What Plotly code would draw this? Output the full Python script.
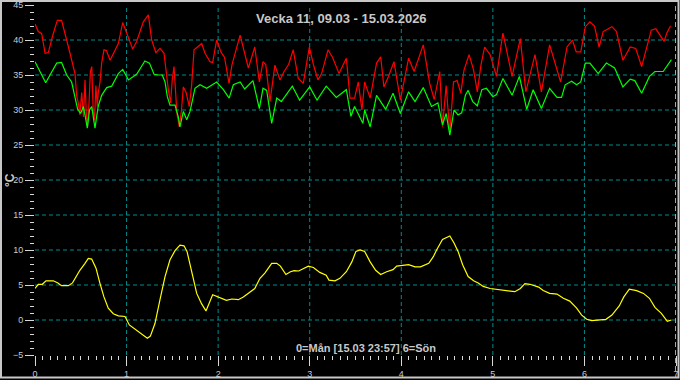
import plotly.graph_objects as go

# ---- data (x = day of week, 0 = Monday) ----
red_t = [0, .036, .073, .11, .146, .19, .244, .29, .346, .382, .41, .437, .455, .473, .49, .51, .53, .546, .56, .575,
         .59, .605, .62, .635, .65, .665, .68, .69, .71, .728, .753, .78, .82, .863, .91, .958, 1.0, 1.067, 1.11, 1.183,
         1.238, 1.274, 1.32, 1.365, 1.409, 1.43, 1.456, 1.48, 1.50, 1.518, 1.535, 1.55, 1.576, 1.60, 1.62, 1.65, 1.685,
         1.71, 1.737, 1.78, 1.82, 1.857, 1.911, 1.94, 1.984, 2.03, 2.07, 2.119, 2.15, 2.24, 2.33, 2.40, 2.45, 2.49, 2.52,
         2.566, 2.62, 2.675, 2.72, 2.77, 2.82, 2.875, 2.93, 2.996, 3.04, 3.09, 3.13, 3.2, 3.25, 3.32, 3.4, 3.44, 3.49,
         3.53, 3.57, 3.60, 3.66, 3.73, 3.775, 3.81, 3.86, 3.92, 3.99, 4.08, 4.14, 4.24, 4.31, 4.36, 4.42, 4.45, 4.49,
         4.53, 4.57, 4.61, 4.65, 4.685, 4.74, 4.79, 4.83, 4.87, 4.91, 4.97, 5.04, 5.11, 5.21, 5.30, 5.36, 5.46, 5.53,
         5.62, 5.74, 5.81, 5.87, 5.91, 5.96, 6.01, 6.06, 6.11, 6.16, 6.205, 6.30, 6.35, 6.42, 6.50, 6.56, 6.625, 6.68,
         6.73, 6.78, 6.87, 6.90, 6.94]
red_v = [42.3, 41.2, 40.9, 38.1, 38.2, 40.5, 42.8, 42.8, 40, 38.1, 36.9, 35.2, 32, 31, 29.3, 32.5, 29, 34.3, 29.5, 27.6,
         31, 35.5, 36.2, 30, 28.5, 33.5, 30.5, 32.4, 34, 36.7, 38.6, 38.5, 37.1, 38.2, 39.5, 42.5, 41, 38.7, 39.8, 42.6,
         43.6, 40, 38.2, 38.8, 38.1, 35.5, 32.9, 31, 34.5, 36.2, 32, 29.5, 27.6, 30, 33.3, 32.5, 30.5,
         33.5, 38.6, 39, 39.5, 38.1, 36.9, 36.8, 40, 38.3, 37.5, 33.8, 36.4, 40.7, 36, 39, 34, 36.9, 36.5,
         31.2, 36.4, 34.3, 35.5, 36.5, 38.6, 34.5, 33.8, 39, 36.5, 34.3, 35.2, 38.6, 37.5, 35.2, 37.4, 31.7, 31.7,
         34, 30, 34, 31.7, 36.7, 37.6, 33.3, 34.8, 36.9, 31.4, 37.4, 35.5, 39.3, 33.8, 31.5, 35.5, 27.6, 33.5,
         26.7, 34, 34.2, 32.4, 35.7, 37.9, 35.7, 32.6, 36.4, 39, 37.9, 34.8, 41, 34.8, 40.2, 32.6, 37.9, 32.6,
         39.3, 34, 39, 40, 38.3, 38.3, 41.9, 42.6, 42, 39, 41.2, 41.9, 41.2, 37.1, 39, 38.8, 36.2, 38.8,
         41.4, 41.6, 39.8, 41, 42]

green_t = [0, .055, .117, .164, .237, .29, .346, .4, .437, .466, .499, .528, .55, .571, .595, .619, .655, .69, .728,
           .783, .837, .91, .958, 1.02, 1.11, 1.2, 1.25, 1.3, 1.347, 1.39, 1.42, 1.445, 1.474, 1.529, 1.565, 1.583,
           1.62, 1.657, 1.693, 1.747, 1.802, 1.875, 1.984, 2.057, 2.12, 2.166, 2.24, 2.29, 2.38, 2.45, 2.49, 2.53,
           2.585, 2.64, 2.69, 2.81, 2.89, 3.0, 3.08, 3.18, 3.29, 3.40, 3.45, 3.49, 3.58, 3.6, 3.66, 3.73, 3.83, 3.91,
           3.99, 4.08, 4.15, 4.24, 4.33, 4.40, 4.45, 4.49, 4.53, 4.576, 4.62, 4.66, 4.70, 4.73, 4.78, 4.83, 4.88,
           4.93, 5.0, 5.04, 5.11, 5.21, 5.29, 5.37, 5.44, 5.53, 5.62, 5.70, 5.75, 5.79, 5.86, 5.915, 5.96, 6.01,
           6.06, 6.15, 6.24, 6.33, 6.42, 6.50, 6.55, 6.625, 6.71, 6.77, 6.86, 6.95]
green_v = [36.9, 35.5, 33.9, 35, 36.7, 36.8, 35, 34, 31.9, 30.1, 29.5, 30.5, 29, 27.4, 30, 30.5, 27.4, 30.5, 32.1,
           33.2, 33.4, 35.2, 35.8, 34.3, 35.1, 37, 36.7, 35.1, 35, 35, 34, 31.9, 30.7, 30.7, 29, 27.6,
           29.8, 28.6, 29.8, 33.1, 33.6, 33.1, 34, 32.9, 31.7, 33.6, 34, 33, 34.2, 30.2, 33.1, 32.8,
           28.1, 31.7, 31.2, 33.4, 31.4, 33.3, 31.4, 33.4, 31.8, 32.9, 29.1, 30.5, 28.1, 30, 27.6, 32.1, 30.1, 32.4,
           29.5, 32.6, 31.2, 33.2, 30.5, 31, 27.9, 29.5, 26.4, 30, 29.3, 29.6, 32.1, 32.8, 31.2, 30.6, 32.9,
           33.1, 31.9, 32.2, 34.5, 32.1, 34.8, 30.1, 32.9, 30.2, 33.1, 31.8, 31.8, 33.6, 34.1, 33.6, 34, 36.7,
           36.7, 35.2, 36.7, 36, 33.3, 34.4, 34.2, 32.4, 34.8, 35.5, 35.5, 37.2]

yellow_t = [0, .036, .08, .12, .2, .25, .29, .364, .41, .49, .546, .582, .619, .666, .71, .753, .80, .855, .91, .983,
            1.03, 1.11, 1.183, 1.227, 1.26, 1.31, 1.365, 1.42, 1.474, 1.529, 1.583, 1.627, 1.66, 1.71, 1.766, 1.82,
            1.867, 1.94, 2.0, 2.09, 2.15, 2.22, 2.275, 2.35, 2.40, 2.457, 2.51, 2.585, 2.64, 2.68, 2.74, 2.79, 2.83,
            2.88, 2.985, 3.04, 3.11, 3.18, 3.21, 3.276, 3.33, 3.40, 3.46, 3.505, 3.55, 3.60, 3.66, 3.72, 3.775, 3.84,
            3.91, 3.95, 4.08, 4.15, 4.21, 4.30, 4.35, 4.39, 4.45, 4.53, 4.576, 4.62, 4.67, 4.73, 4.79, 4.84, 4.895,
            4.97, 5.04, 5.11, 5.24, 5.30, 5.35, 5.405, 5.50, 5.55, 5.62, 5.70, 5.77, 5.84, 5.915, 5.97, 6.025, 6.08,
            6.15, 6.235, 6.30, 6.38, 6.43, 6.49, 6.57, 6.645, 6.71, 6.77, 6.84, 6.905, 6.95]
yellow_v = [4.5, 5.1, 5.1, 5.6, 5.6, 5.3, 4.9, 4.9, 5.3, 7.1, 8.1, 8.8, 8.7, 7.4, 5.2, 3.3, 1.7, 0.9, 0.6, 0.5,
            -0.7, -1.5, -2.1, -2.6, -2.3, -0.5, 2.9, 6.2, 8.6, 9.9, 10.7, 10.6, 9.8, 7.1, 3.8, 2.3,
            1.3, 3.6, 3.3, 2.8, 3.0, 2.9, 3.3, 4.0, 4.5, 5.95, 6.7, 8.1, 8.1, 7.7, 6.5, 6.9, 7.05,
            7.0, 7.7, 7.5, 6.8, 6.4, 5.7, 5.6, 5.95, 6.9, 8.3, 9.8, 10, 9.8, 8.3, 7.1, 6.5, 6.9,
            7.2, 7.7, 7.9, 7.6, 7.6, 8.1, 9.05, 10.1, 11.5, 12, 11, 9.8, 7.9, 6.2, 5.6, 5.3, 4.8,
            4.5, 4.4, 4.2, 4.05, 4.5, 5.2, 5.1, 4.7, 4.2, 3.8, 3.7, 3.1, 2.7, 1.7, 0.7, 0.1, -0.1,
            0, 0.1, 0.7, 2.0, 3.3, 4.4, 4.2, 3.8, 3.1, 1.8, 0.95, -0.2, 0]

x_ticks = [0, 1, 2, 3, 4, 5, 6, 7]
y_ticks = [-5, 0, 5, 10, 15, 20, 25, 30, 35, 40, 45]
x_grid = [1, 2, 3, 4, 5, 6]
y_grid = [0, 5, 10, 15, 20, 25, 30, 35, 40]

title_text = "Vecka 11, 09.03 - 15.03.2026"
footer_text = "0=Mån [15.03 23:57] 6=Sön"
y_title = "°C"
now_x = 7

# ---- figure ----
W, H = 680, 380
ML, MR, MT, MB = 35, 4, 5, 25
PW, PH = W - ML - MR, H - MT - MB

def px_to_paper_x(px):
    return (px - ML) / PW

def py_to_paper_y(py):
    return (H - MB - py) / PH

fig = go.Figure()

grid_col = "#008c8c"
grid_line = dict(color=grid_col, width=1, dash="4px,3px")
for gx in x_grid:
    fig.add_shape(type="line", xref="x", yref="paper", x0=gx, x1=gx, y0=0, y1=1, line=grid_line, layer="below")
for gy in y_grid:
    fig.add_shape(type="line", xref="paper", yref="y", x0=0, x1=1, y0=gy, y1=gy, line=grid_line, layer="below")

for t, v, c in [(red_t, red_v, "#ff0000"), (green_t, green_v, "#00ff00"), (yellow_t, yellow_v, "#ffff00")]:
    fig.add_trace(go.Scatter(x=t, y=v, mode="lines", line=dict(color=c, width=1.2), hoverinfo="x+y"))

tick_font = dict(family="Liberation Sans, Arial, sans-serif", size=9, color="#c4ccd4")
tick_col = "#d8d8d8"

fig.update_xaxes(range=[0, 7], tickmode="array", tickvals=x_ticks, ticks="outside", ticklen=10, tickwidth=1,
                 tickcolor=tick_col, tickfont=tick_font, showgrid=False, zeroline=False, showline=False,
                 automargin=False,
                 minor=dict(dtick=1 / 12, tick0=0, ticks="outside", ticklen=4, tickcolor=tick_col, showgrid=False))
fig.update_yaxes(range=[-5, 45], tickmode="array", tickvals=y_ticks, ticks="outside", ticklen=9, tickwidth=1,
                 tickcolor=tick_col, tickfont=tick_font, showgrid=False, zeroline=False, showline=False,
                 automargin=False,
                 minor=dict(dtick=1, tick0=0, ticks="outside", ticklen=4, tickcolor=tick_col, showgrid=False))

fig.add_shape(type="line", xref="x", yref="paper", x0=now_x, x1=now_x,
              y0=py_to_paper_y(371), y1=py_to_paper_y(6),
              line=dict(color="#00e8ff", width=2, dash="5px,3px"))

# outer frame
fig.add_shape(type="rect", xref="paper", yref="paper",
              x0=px_to_paper_x(1), x1=px_to_paper_x(678.5), y0=py_to_paper_y(377.5), y1=py_to_paper_y(1),
              line=dict(color="#c8c8c8", width=2), layer="above")

fig.add_annotation(text=title_text, xref="paper", yref="paper", x=px_to_paper_x(341), y=py_to_paper_y(18),
                   showarrow=False, xanchor="center", yanchor="middle",
                   font=dict(family="Liberation Sans, Arial, sans-serif", size=13, color="#c8c8c8", weight="bold"))
fig.add_annotation(text=footer_text, xref="paper", yref="paper", x=px_to_paper_x(366), y=py_to_paper_y(348),
                   showarrow=False, xanchor="center", yanchor="middle",
                   font=dict(family="Liberation Sans, Arial, sans-serif", size=11, color="#c8c8c8", weight="bold"))
fig.add_annotation(text=y_title, xref="paper", yref="paper", x=px_to_paper_x(10), y=py_to_paper_y(180),
                   showarrow=False, xanchor="center", yanchor="middle", textangle=-90,
                   font=dict(family="Liberation Sans, Arial, sans-serif", size=12, color="#c8c8c8", weight="bold"))

fig.update_layout(width=W, height=H, margin=dict(l=ML, r=MR, t=MT, b=MB, pad=0, autoexpand=False),
                  paper_bgcolor="#000000", plot_bgcolor="#000000", showlegend=False)

fig.write_html("out.html", config={"displayModeBar": False},
               post_script="document.body.style.margin='0px';document.body.style.background='#000';")
